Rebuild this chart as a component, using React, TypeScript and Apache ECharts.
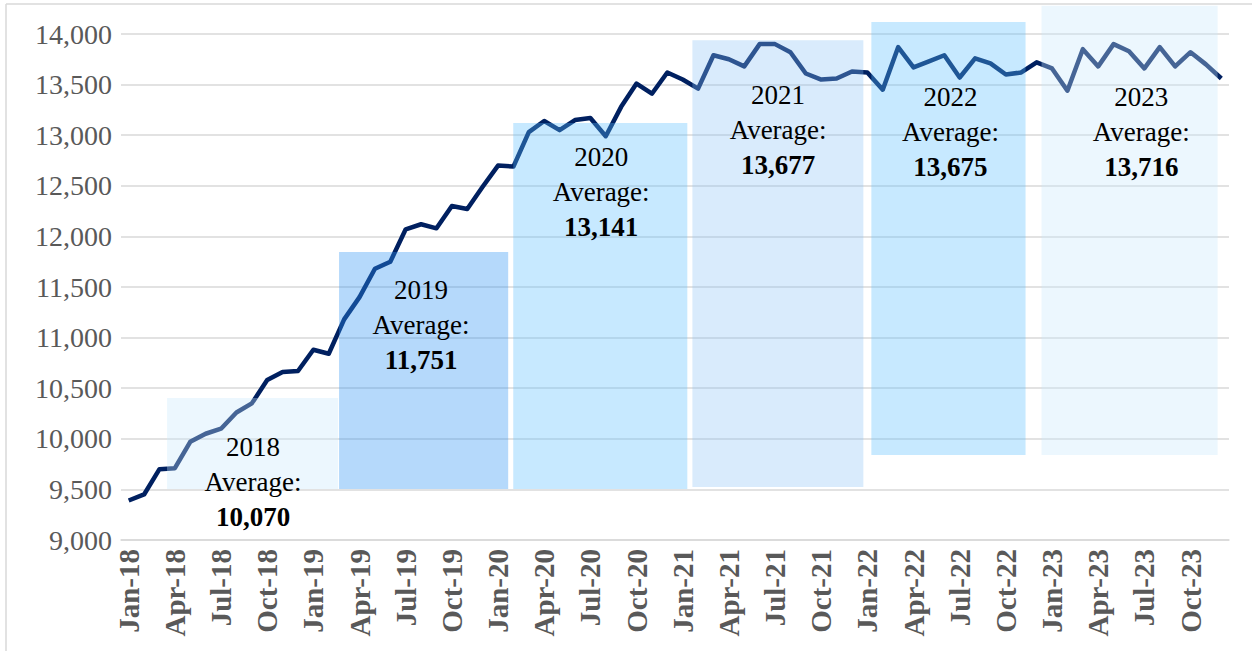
import React, { useEffect, useRef } from "react";
import * as echarts from "echarts";

const MONTHS = ["Jan", "Feb", "Mar", "Apr", "May", "Jun", "Jul", "Aug", "Sep", "Oct", "Nov", "Dec"];
const YEARS = ["18", "19", "20", "21", "22", "23"];
const categories: string[] = YEARS.flatMap((y) => MONTHS.map((m) => `${m}-${y}`));

const values2018 = [9390, 9450, 9700, 9710, 9970, 10050, 10100, 10260, 10350, 10580, 10660, 10670];
const values2019 = [10880, 10840, 11180, 11400, 11680, 11750, 12070, 12120, 12080, 12300, 12270, 12490];
const values2020 = [12700, 12690, 13030, 13140, 13050, 13150, 13170, 12990, 13280, 13510, 13410, 13620];
const values2021 = [13550, 13460, 13790, 13750, 13680, 13900, 13900, 13820, 13610, 13550, 13560, 13630];
const values2022 = [13620, 13450, 13870, 13670, 13730, 13790, 13570, 13760, 13710, 13600, 13620, 13720];
const values2023 = [13660, 13440, 13850, 13680, 13900, 13830, 13660, 13870, 13680, 13820, 13700, 13560];
const monthlyValues = [...values2018, ...values2019, ...values2020, ...values2021, ...values2022, ...values2023];

const boxYears = ["2018", "2019", "2020", "2021", "2022", "2023"];
const boxAverages = [10070, 11751, 13141, 13677, 13675, 13716];
// box extents in month units (category boundaries) and y values
const boxStart = [2.99, 14.17, 25.49, 37.13, 48.76, 59.82];
const boxEnd = [14.11, 25.16, 36.8, 48.24, 58.78, 71.26];
const boxLow = [9504, 9504, 9504, 9524, 9840, 9840];
const boxHigh = [10403, 11846, 13121, 13938, 14119, 14280];
const labelMonth = [8.58, 19.5, 31.2, 42.7, 53.9, 66.3];
const labelValue = [9573, 11125, 12439, 13051, 13032, 13032];
const boxColors = [
  "rgba(200,232,252,0.35)",
  "rgba(50,150,245,0.36)",
  "rgba(90,190,255,0.34)",
  "rgba(140,195,245,0.33)",
  "rgba(90,190,255,0.34)",
  "rgba(200,232,252,0.35)",
];

const yTicks = { min: 9000, max: 14000, interval: 500 };
const FONT = "'Liberation Serif', 'Times New Roman', serif";

export default function App() {
  const ref = useRef<HTMLDivElement>(null);
  useEffect(() => {
    if (!ref.current) return;
    const chart = echarts.init(ref.current, undefined, { renderer: "svg" });
    const option: any = {
      animation: false,
      backgroundColor: "#ffffff",
      grid: { left: 121, right: 23, top: 34, bottom: 111, containLabel: false },
      xAxis: {
        type: "category",
        data: categories,
        boundaryGap: true,
        axisLine: { lineStyle: { color: "#d9d9d9", width: 1.5 } },
        axisTick: { interval: 2, length: 6, lineStyle: { color: "#d9d9d9", width: 1.5 } },
        axisLabel: {
          interval: 2,
          rotate: 90,
          margin: 9,
          color: "#595959",
          fontFamily: FONT,
          fontWeight: "bold",
          fontSize: 29,
        },
        splitLine: { show: false },
      },
      yAxis: {
        type: "value",
        min: yTicks.min,
        max: yTicks.max,
        interval: yTicks.interval,
        axisLine: { show: false },
        axisTick: { show: false },
        axisLabel: {
          margin: 9,
          color: "#595959",
          fontFamily: FONT,
          fontSize: 28,
          formatter: (v: number) => v.toLocaleString("en-US"),
        },
        splitLine: { lineStyle: { color: "#d9d9d9", width: 1.5 } },
      },
      graphic: [
        { type: "line", shape: { x1: 6, y1: 4, x2: 1252, y2: 4 }, style: { stroke: "#d9d9d9", lineWidth: 1.5 } },
        { type: "line", shape: { x1: 6, y1: 4, x2: 6, y2: 651 }, style: { stroke: "#d9d9d9", lineWidth: 1.5 } },
      ],
      series: [
        {
          type: "line",
          data: monthlyValues,
          showSymbol: false,
          symbol: "none",
          lineStyle: { color: "#002060", width: 4.5, join: "round" },
          z: 2,
        },
        {
          type: "custom",
          z: 5,
          clip: false,
          data: boxYears.map((_, i) => [i]),
          encode: { x: 0 },
          renderItem: (params: any, api: any) => {
            const i = params.dataIndex;
            const bw = api.size([1, 0])[0];
            const origin = api.coord([0, 9000])[0] - bw / 2;
            const x1 = origin + boxStart[i] * bw;
            const x2 = origin + boxEnd[i] * bw;
            const yTop = api.coord([0, boxHigh[i]])[1];
            const yBot = api.coord([0, boxLow[i]])[1];
            const lx = origin + labelMonth[i] * bw;
            const ly = api.coord([0, labelValue[i]])[1];
            return {
              type: "group",
              children: [
                {
                  type: "rect",
                  shape: { x: x1, y: yTop, width: x2 - x1, height: yBot - yTop },
                  style: { fill: boxColors[i] },
                },
                {
                  type: "text",
                  x: lx,
                  y: ly,
                  style: {
                    text: `{n|${boxYears[i]}}\n{n|Average:}\n{b|${boxAverages[i].toLocaleString("en-US")}}`,
                    align: "center",
                    verticalAlign: "middle",
                    rich: {
                      n: { fontFamily: FONT, fontSize: 27, lineHeight: 35, fill: "#000000", color: "#000000" },
                      b: { fontFamily: FONT, fontSize: 27, fontWeight: "bold", lineHeight: 35, fill: "#000000", color: "#000000" },
                    },
                  },
                },
              ],
            };
          },
        },
      ],
    };
    chart.setOption(option);
    return () => chart.dispose();
  }, []);
  return (
    <div
      ref={ref}
      style={{ position: "fixed", left: 0, top: 0, width: 1252, height: 651 }}
    />
  );
}
